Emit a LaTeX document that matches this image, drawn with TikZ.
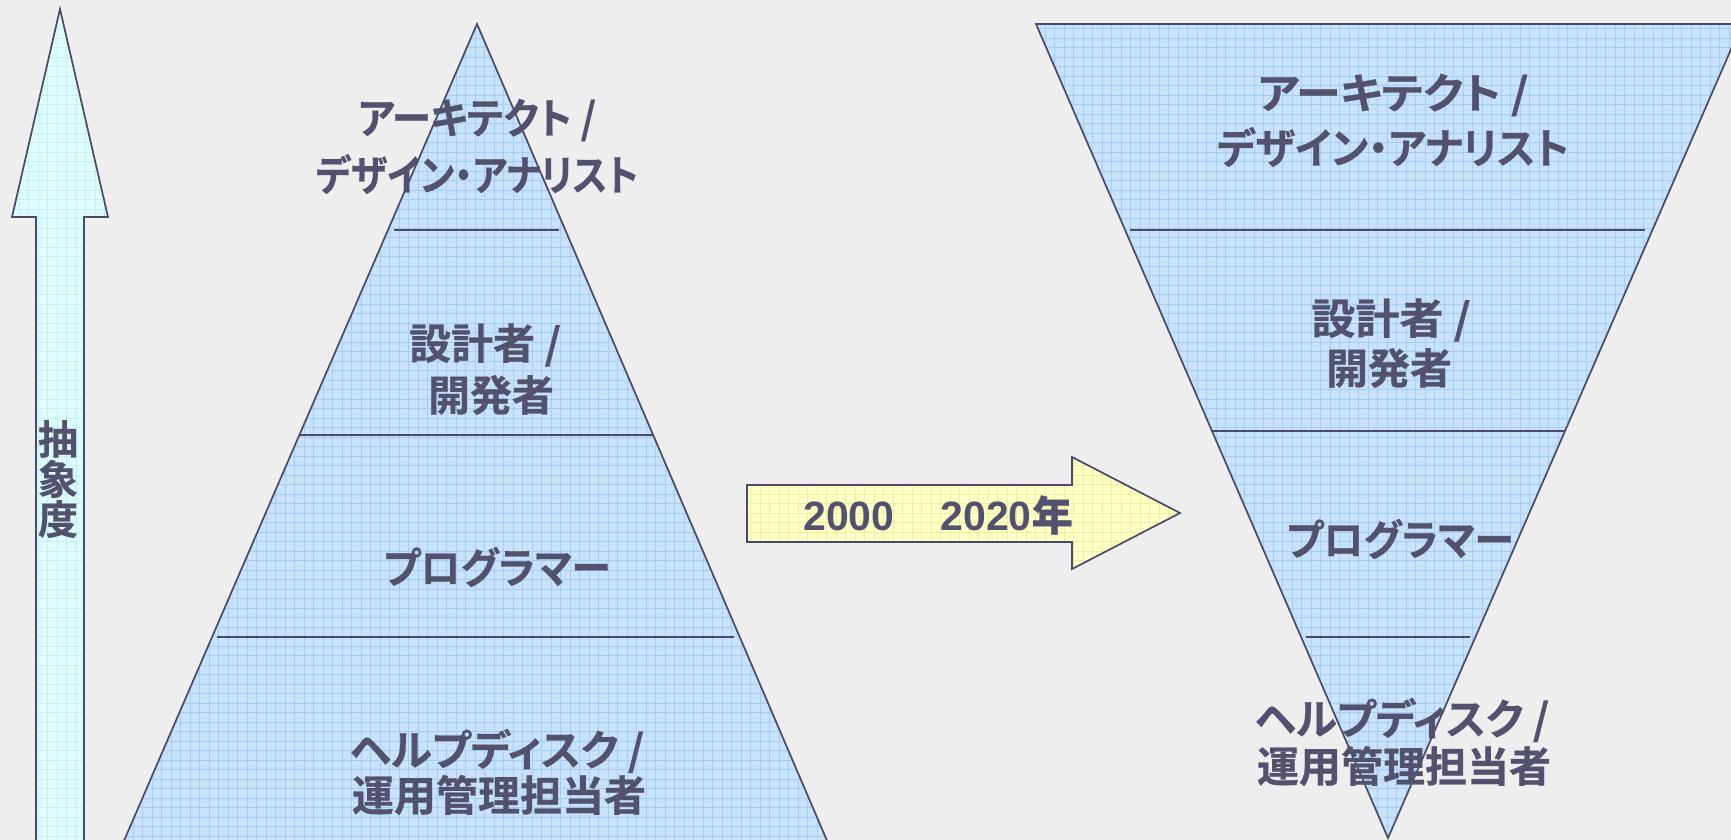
\documentclass[tikz,border=0pt]{standalone}
\usepackage{fontspec}
\newfontfamily\jp{Noto Sans CJK JP Bold}[RawFeature={+palt}, FakeBold=0.6]
\newfontfamily\num{Liberation Sans}
\definecolor{bgc}{HTML}{EEEEEE}
\definecolor{txt}{HTML}{52526F}
\definecolor{edge}{HTML}{4A4A68}
\definecolor{bluef}{HTML}{C8E2FA}
\definecolor{blueg}{HTML}{A6CEF4}
\definecolor{yelf}{HTML}{FFFFC4}
\definecolor{yelg}{HTML}{EEEEA8}
\definecolor{cyanf}{HTML}{DFFCFC}
\definecolor{cyang}{HTML}{C4EEF0}
\tikzset{
  lbl/.style={text=txt, inner sep=0pt, font=\jp\fontsize{42}{46}\selectfont},
  outline/.style={draw=edge, line width=1.7pt, line join=miter},
  divider/.style={draw=edge, line width=1.4pt},
}
\begin{document}
\begin{tikzpicture}[x=1pt,y=-1pt]
\useasboundingbox (0,0) rectangle (1731,840);
\clip (0,0) rectangle (1731,840);
\fill[bgc] (0,0) rectangle (1731,840);

% left abstraction arrow
\begin{scope}
  \clip (36,850) -- (36,217) -- (12,217) -- (60,9) -- (108,217) -- (84,217) -- (84,850) -- cycle;
  \fill[cyanf] (0,0) rectangle (120,850);
  \draw[cyang, line width=0.5pt, step=9.5pt] (0,0) grid (120,850);
\end{scope}
\draw[outline] (36,850) -- (36,217) -- (12,217) -- (60,9) -- (108,217) -- (84,217) -- (84,850);
\node[lbl, align=center, font=\jp\fontsize{40}{40}\selectfont] (abs) at (58,479) {抽\\象\\度};

% left pyramid
\begin{scope}
  \clip (477,24) -- (831,850) -- (120,850) -- cycle;
  \fill[bluef] (100,0) rectangle (850,850);
  \draw[blueg, line width=0.5pt, step=9.5pt] (100,0) grid (850,850);
\end{scope}
\draw[outline] (120,850) -- (477,24) -- (831,850);
\draw[divider] (394,230) -- (559,230);
\draw[divider] (299,435) -- (654,435);
\draw[divider] (217,637) -- (734,637);

\node[lbl, xscale=0.94] (la1) at (477,120) {アーキテクト /};
\node[lbl, xscale=0.88] (la2) at (477,174) {デザイン・アナリスト};
\node[lbl] (lb1) at (485,345) {設計者 /};
\node[lbl] (lb2) at (491,395) {開発者};
\node[lbl, xscale=0.95] (lc) at (497,567) {プログラマー};
\node[lbl] (ld1) at (497,751) {ヘルプディスク /};
\node[lbl] (ld2) at (499,795) {運用管理担当者};

% middle arrow
\begin{scope}
  \clip (747,485) -- (1072,485) -- (1072,457) -- (1180,513) -- (1072,569) -- (1072,542) -- (747,542) -- cycle;
  \fill[yelf] (740,450) rectangle (1190,580);
  \draw[yelg, line width=0.5pt, step=9.5pt] (740,450) grid (1190,580);
\end{scope}
\draw[outline] (747,485) -- (1072,485) -- (1072,457) -- (1180,513) -- (1072,569) -- (1072,542) -- (747,542) -- cycle;
\node[text=txt, inner sep=0pt, font=\num\bfseries\fontsize{41}{44}\selectfont] (yr) at (938,515) {2000\hspace{46pt}2020{\jp 年}};

% right inverted pyramid
\begin{scope}
  \clip (1036,24) -- (1742,24) -- (1388,838) -- cycle;
  \fill[bluef] (1030,20) rectangle (1731,840);
  \draw[blueg, line width=0.5pt, step=9.5pt] (1030,20) grid (1731,840);
\end{scope}
\draw[outline] (1036,24) -- (1742,24) -- (1388,838) -- cycle;
\draw[divider] (1130,230) -- (1645,230);
\draw[divider] (1211,431) -- (1565,431);
\draw[divider] (1306,637) -- (1470,637);

\node[lbl, xscale=1.07] (ra1) at (1393,95) {アーキテクト /};
\node[lbl, xscale=0.96] (ra2) at (1393,147) {デザイン・アナリスト};
\node[lbl, xscale=1.05] (rb1) at (1391,320) {設計者 /};
\node[lbl] (rb2) at (1389,368) {開発者};
\node[lbl, xscale=0.95] (rc) at (1400,539) {プログラマー};
\node[lbl] (rd1) at (1402,720) {ヘルプディスク /};
\node[lbl] (rd2) at (1404,766) {運用管理担当者};
\end{tikzpicture}
\end{document}
